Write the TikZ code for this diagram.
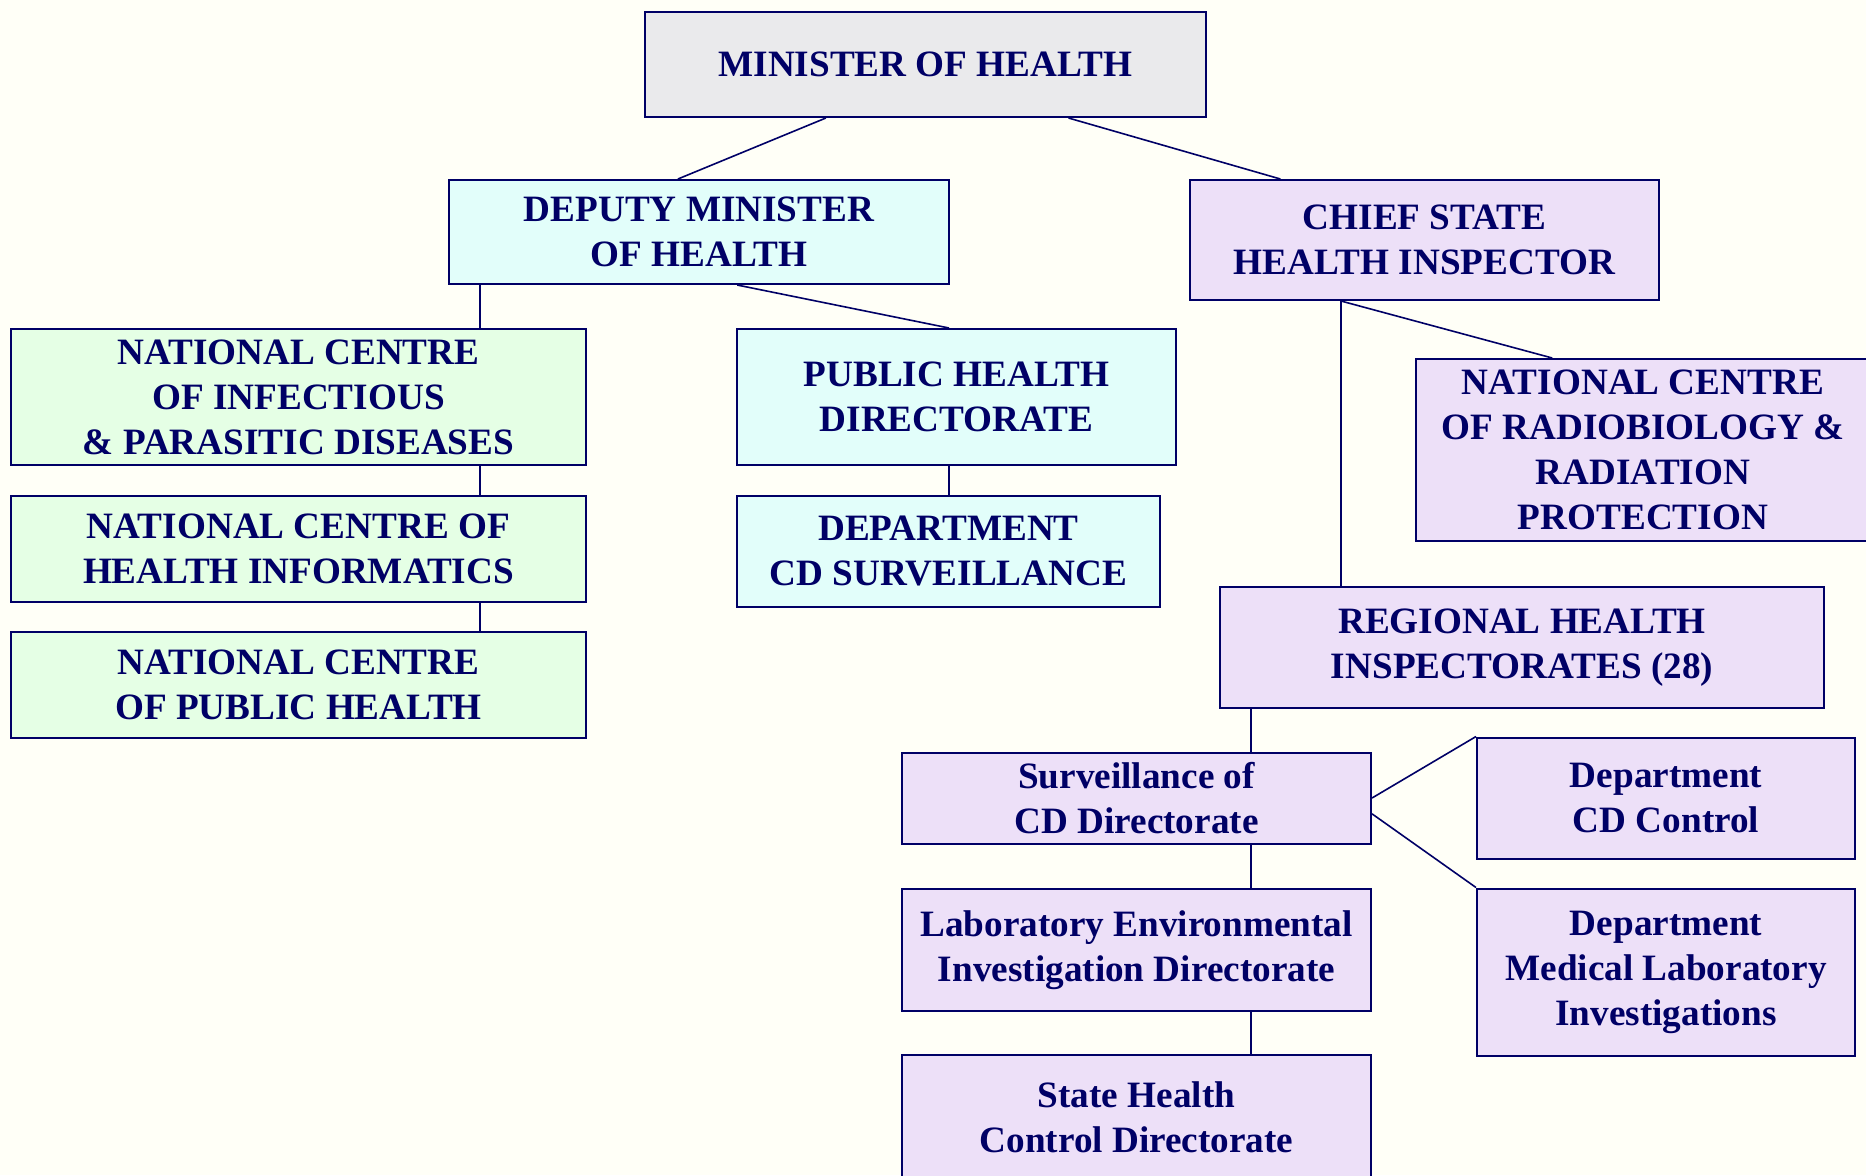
\documentclass[tikz,border=0pt]{standalone}
\usepackage{fontspec}
\setmainfont{Liberation Serif}
\usepackage{xcolor}
\usetikzlibrary{calc}
\usetikzlibrary{positioning}

\definecolor{paper}{RGB}{255,255,247}
\definecolor{navy}{RGB}{0,0,102}
\definecolor{greybox}{RGB}{234,234,236}
\definecolor{cyanbox}{RGB}{226,254,250}
\definecolor{greenbox}{RGB}{229,255,229}
\definecolor{lilacbox}{RGB}{237,224,248}

\begin{document}
\begin{tikzpicture}[x=0.5pt,y=-0.5pt,line width=0.8pt,
    unit/.style 2 args={draw=navy,line width=1pt,inner sep=0pt,align=center,
      minimum width=#1*0.5pt,minimum height=#2*0.5pt,
      text=navy,font=\fontsize{18.6}{22.5}\selectfont\bfseries},
    link/.style={draw=navy,line width=0.8pt}]

  % page and background
  \useasboundingbox[fill=paper] (0,0) rectangle (1866,1175);
  \clip (0,0) rectangle (1866,1175);

  % top of the ministry
  \node[unit={561}{105},fill=greybox] (minister) at (925.5,64.5) {MINISTER OF HEALTH};
  \node[unit={500}{104},fill=cyanbox] (deputy) at (699,232) {DEPUTY MINISTER\\OF HEALTH};
  \node[unit={469}{120},fill=lilacbox] (chief) at (1424.5,240) {CHIEF STATE\\HEALTH INSPECTOR};

  % national centres under the deputy minister
  \node[unit={575}{136},fill=greenbox] (ncinf) at (298.5,397) {NATIONAL CENTRE\\OF INFECTIOUS\\\& PARASITIC DISEASES};
  \node[unit={575}{106},fill=greenbox] (ncinfo) at (298.5,549) {NATIONAL CENTRE OF\\HEALTH INFORMATICS};
  \node[unit={575}{106},fill=greenbox] (ncph) at (298.5,685) {NATIONAL CENTRE\\OF PUBLIC HEALTH};

  % public health directorate
  \node[unit={439}{136},fill=cyanbox] (phd) at (956.5,397) {PUBLIC HEALTH\\DIRECTORATE};
  \node[unit={423}{111},fill=cyanbox] (dcds) at (948.5,551) {DEPARTMENT\\CD SURVEILLANCE};

  % state health inspection
  \node[unit={454}{182},fill=lilacbox] (ncrad) at (1643,450) {NATIONAL CENTRE\\OF RADIOBIOLOGY \&\\RADIATION\\PROTECTION};
  \node[unit={604}{121},fill=lilacbox] (rhi) at (1522,647.5) {REGIONAL HEALTH\\INSPECTORATES (28)};

  % regional directorates
  \node[unit={469}{91},fill=lilacbox] (surv) at (1136.5,798) {Surveillance of\\CD Directorate};
  \node[unit={469}{122},fill=lilacbox] (labenv) at (1136.5,950) {Laboratory Environmental\\Investigation Directorate};
  \node[unit={469}{125},fill=lilacbox] (state) at (1136.5,1117.5) {State Health\\Control Directorate};
  \node[unit={378}{121},fill=lilacbox] (dcdc) at (1666,798) {Department\\CD Control};
  \node[unit={378}{167},fill=lilacbox] (medlab) at (1666,972) {Department\\Medical Laboratory\\Investigations};

  % x positions of the vertical runs
  \coordinate (leftbus) at (480,0);
  \coordinate (midbus) at (949,0);
  \coordinate (chiefbus) at (1341,0);
  \coordinate (regbus) at (1251,0);

  % connectors
  \draw[link] ($(minister.south west)!0.323!(minister.south east)$) -- ($(deputy.north west)!0.458!(deputy.north east)$);
  \draw[link] ($(minister.south west)!0.754!(minister.south east)$) -- ($(chief.north west)!0.194!(chief.north east)$);

  \draw[link] (deputy.south -| leftbus) -- (ncinf.north -| leftbus);
  \draw[link] (ncinf.south -| leftbus) -- (ncinfo.north -| leftbus);
  \draw[link] (ncinfo.south -| leftbus) -- (ncph.north -| leftbus);

  \draw[link] ($(deputy.south west)!0.576!(deputy.south east)$) -- (phd.north -| midbus);
  \draw[link] (phd.south -| midbus) -- (dcds.north -| midbus);

  \draw[link] (chief.south -| chiefbus) -- ($(ncrad.north west)!0.301!(ncrad.north east)$);
  \draw[link] (chief.south -| chiefbus) -- (rhi.north -| chiefbus);

  \draw[link] (rhi.south -| regbus) -- (surv.north -| regbus);
  \draw[link] (surv.south -| regbus) -- (labenv.north -| regbus);
  \draw[link] (labenv.south -| regbus) -- (state.north -| regbus);

  \draw[link] (surv.east) -- (dcdc.north west);
  \draw[link] ($(surv.north east)!0.67!(surv.south east)$) -- (medlab.north west);

\end{tikzpicture}
\end{document}
